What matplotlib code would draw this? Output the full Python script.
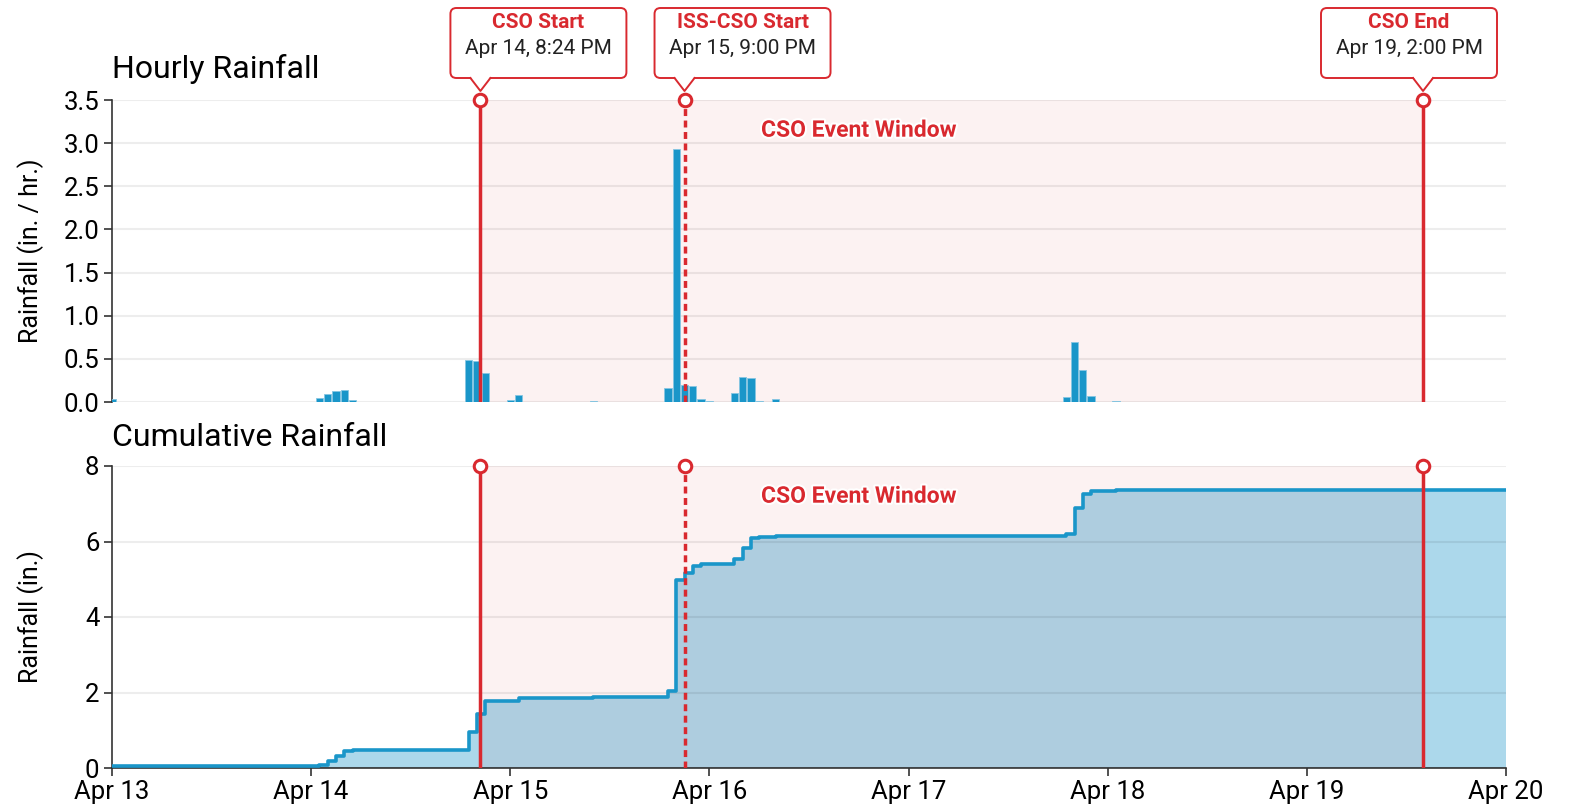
import numpy as np
import matplotlib
matplotlib.use("Agg")
import matplotlib.pyplot as plt
from matplotlib.patches import FancyBboxPatch, Polygon
from matplotlib.lines import Line2D
from matplotlib.transforms import IdentityTransform
import matplotlib.patheffects as pe

plt.rcParams['font.family'] = ['Roboto', 'DejaVu Sans']

# hours after Apr 13, 12:00 AM and hourly rainfall (in./hr.)
hours = [0, 25, 26, 27, 28, 29, 43, 44, 45, 48, 49, 58, 67, 68, 69, 70, 71, 72,
         75, 76, 77, 78, 80, 115, 116, 117, 118, 121]
rain = [0.04, 0.046, 0.093, 0.127, 0.139, 0.02, 0.49, 0.47, 0.34, 0.02, 0.08, 0.015,
        0.16, 2.93, 0.20, 0.19, 0.04, 0.015, 0.11, 0.29, 0.28, 0.015, 0.04,
        0.058, 0.69, 0.37, 0.07, 0.015]

day_ticks = [0, 24, 48, 72, 96, 120, 144, 168]
day_labels = ["Apr 13", "Apr 14", "Apr 15", "Apr 16", "Apr 17", "Apr 18", "Apr 19", "Apr 20"]

event_titles = ["CSO Start", "ISS-CSO Start", "CSO End"]
event_texts = ["Apr 14, 8:24 PM", "Apr 15, 9:00 PM", "Apr 19, 2:00 PM"]
event_hours = [44.4, 69, 158]
event_dashed = [False, True, False]

RED = '#d9292f'
BLUE = '#1a96c9'
FILL = '#acd8eb'
DARK = '#333333'

W, H = 1571, 808
fig = plt.figure(figsize=(W / 100, H / 100), dpi=100)
ax1 = fig.add_axes([112 / W, 1 - 402 / H, 1394 / W, 302 / H])
ax2 = fig.add_axes([112 / W, 1 - 768 / H, 1394 / W, 302 / H])

# cumulative series
x_cum = np.array(hours + [168])
y_cum = np.cumsum(rain)
y_cum = np.append(y_cum, y_cum[-1])

# --- top: hourly bars
ax1.bar(hours, rain, width=0.88, color=BLUE, edgecolor='#86c6e2', linewidth=0.6, zorder=3)
ax1.set_ylim(0, 3.5)
ax1.set_yticks(np.arange(0, 3.51, 0.5))
ax1.set_yticklabels(["%.1f" % v for v in np.arange(0, 3.51, 0.5)])
ax1.set_ylabel("Rainfall (in. / hr.)", fontsize=18)
ax1.spines['bottom'].set_visible(False)
ax1.tick_params(axis='x', bottom=False, labelbottom=False)

# --- bottom: cumulative
ax2.fill_between(x_cum, y_cum, step='post', color=FILL, linewidth=0, zorder=1)
ax2.step(x_cum, y_cum, where='post', color=BLUE, lw=2.6, zorder=3)
ax2.set_ylim(0, 8)
ax2.set_yticks([0, 2, 4, 6, 8])
ax2.set_ylabel("Rainfall (in.)", fontsize=18)
ax2.set_xticks(day_ticks)
ax2.set_xticklabels(day_labels)

for ax in (ax1, ax2):
    ax.set_xlim(0, 168)
    ax.spines['top'].set_visible(False)
    ax.spines['right'].set_visible(False)
    ax.spines['left'].set_color(DARK)
    ax.spines['bottom'].set_color(DARK)
    ax.spines['left'].set_linewidth(1.2)
    ax.spines['bottom'].set_linewidth(1.2)
    ax.tick_params(labelsize=18.5, length=6, width=1.2, color=DARK, pad=3)
    ax.yaxis.grid(True, color='black', alpha=0.07, lw=1.5)
    ax.set_axisbelow(False)
    ax.yaxis.set_label_coords(-0.049, 0.5)
    # event window shading
    ax.axvspan(event_hours[0], event_hours[2], color=RED, alpha=0.06, lw=0, zorder=1.2)
    ax.text(0.4656, 0.9, "CSO Event Window", transform=ax.transAxes, color=RED,
            fontsize=16.5, fontweight='bold', ha='left', va='center', zorder=4,
            path_effects=[pe.withStroke(linewidth=3, foreground='white')])
    top = ax.get_ylim()[1]
    for h, dashed in zip(event_hours, event_dashed):
        ax.axvline(h, color=RED, lw=2.5, ls=(0, (2, 1.3)) if dashed else '-', zorder=5)
        ax.plot([h], [top], 'o', ms=9, mfc='white', mec=RED, mew=2.2, clip_on=False, zorder=6)

fig.text(112 / W, 1 - 78 / H, "Hourly Rainfall", fontsize=23, va='baseline', ha='left')
fig.text(112 / W, 1 - 446 / H, "Cumulative Rainfall", fontsize=23, va='baseline', ha='left')

# callout boxes above the top panel (pixel coords)
ident = IdentityTransform()
bw, bh = 176, 70
for h, title, sub in zip(event_hours, event_titles, event_texts):
    xp = ax1.transData.transform((h, 0))[0]
    cx = min(xp + 58, 1497 - bw / 2)
    left = cx - bw / 2
    y0 = H - 78
    box = FancyBboxPatch((left, y0), bw, bh, boxstyle='round,pad=0,rounding_size=6',
                         transform=ident, fc='white', ec=RED, lw=1.4)
    fig.add_artist(box)
    tip = H - 91
    fig.add_artist(Polygon([(xp - 10, y0 + 1.5), (xp + 10, y0 + 1.5), (xp, tip)], closed=True,
                           transform=ident, fc='white', ec='none'))
    fig.add_artist(Line2D([xp - 10, xp, xp + 10], [y0, tip, y0], transform=ident,
                          color=RED, lw=1.4))
    fig.text(cx, H - 22, title, transform=ident, ha='center', va='center', color=RED,
             fontsize=15, fontweight='bold')
    fig.text(cx, H - 48, sub, transform=ident, ha='center', va='center', color='#222222',
             fontsize=15)

fig.savefig("out.png", dpi=100)
